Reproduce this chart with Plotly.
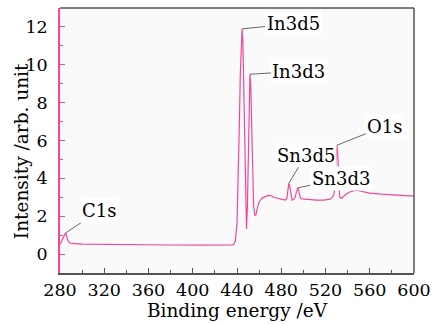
import plotly.graph_objects as go

# XPS survey spectrum (binding energy in eV, intensity in arb. units)
energy = [280, 281, 282.5, 284, 285, 286, 287, 288.5, 291, 300, 320, 350, 380, 410, 430,
          435, 437, 438.5, 440, 441, 442, 443, 444, 444.6, 445.3, 446.2, 447, 447.8, 448.6,
          449.4, 450.2, 451, 451.7, 452.4, 453.2, 454, 455, 456, 457, 458.5, 460, 462.5,
          464, 466, 468.6, 471, 473, 476, 479, 483.4, 485, 485.8, 486.9, 487.8, 488.8,
          489.8, 491, 492.5, 493.8, 495, 496, 497.2, 498.7, 505, 512, 518.7, 524, 526,
          527.6, 528.6, 529.4, 530.3, 531, 531.8, 532.9, 534.5, 537, 539.3, 542, 545, 548.2,
          551, 555, 560, 570, 580, 590, 598, 600]
intensity = [0.50, 0.62, 0.85, 1.06, 1.12, 0.96, 0.74, 0.60, 0.56, 0.53, 0.51, 0.50, 0.48,
             0.47, 0.46, 0.48, 0.51, 0.70, 1.60, 3.50, 6.50, 9.50, 11.50, 11.90, 11.30,
             8.50, 5.00, 2.50, 1.33, 2.50, 5.50, 8.30, 9.50, 9.00, 7.00, 4.50, 2.60, 2.05,
             2.05, 2.45, 2.75, 2.95, 3.00, 3.05, 3.10, 3.08, 3.00, 2.95, 2.90, 2.85, 2.92,
             3.30, 3.75, 3.55, 3.05, 2.85, 2.88, 3.00, 3.30, 3.50, 3.30, 2.98, 2.92, 2.87,
             2.85, 2.85, 2.90, 2.98, 3.16, 3.70, 4.80, 5.75, 5.30, 3.90, 3.00, 2.95, 3.10,
             3.20, 3.28, 3.35, 3.39, 3.33, 3.27, 3.22, 3.17, 3.13, 3.10, 3.08, 3.06]

# Peak labels: (text, energy, intensity, label offset x, label offset y)
peak_labels = ["C1s", "In3d5", "In3d3", "Sn3d5", "Sn3d3", "O1s"]
peak_energy = [285.2, 444.6, 451.7, 486.9, 495.0, 530.3]
peak_height = [1.12, 11.90, 9.50, 3.75, 3.50, 5.75]
label_dx = [33, 51, 49, 17, 43, 48]
label_dy = [-22, -5, -3, -28, -9, -19]

x_ticks = [280, 320, 360, 400, 440, 480, 520, 560, 600]
y_ticks = [0, 2, 4, 6, 8, 10, 12]

PINK = "#f0489a"
FRAME = "#555555"
FONT = "DejaVu Serif"

fig = go.Figure()
fig.add_trace(go.Scatter(x=energy, y=intensity, mode="lines",
                         line=dict(color=PINK, width=1.2), hoverinfo="skip"))

for txt, ex, iy, dx, dy in zip(peak_labels, peak_energy, peak_height, label_dx, label_dy):
    fig.add_annotation(x=ex, y=iy, text=txt, showarrow=True, arrowhead=0,
                       arrowwidth=0.8, arrowcolor="#444444", ax=dx, ay=dy,
                       bgcolor="white", borderpad=1,
                       font=dict(family=FONT, size=18, color="black"))

# vertical axis title, set slightly below the middle of the axis
fig.add_annotation(xref="paper", yref="paper", x=-0.11, y=0.46, text="Intensity /arb. unit",
                   textangle=-90, showarrow=False, xanchor="center", yanchor="middle",
                   font=dict(family=FONT, size=18.5, color="black"))

# dark frame on top and right, pink left axis line
fig.add_shape(type="line", xref="paper", yref="paper", x0=0, x1=1, y0=1, y1=1,
              line=dict(color=FRAME, width=1.5))
fig.add_shape(type="line", xref="paper", yref="paper", x0=1, x1=1, y0=0, y1=1,
              line=dict(color=FRAME, width=1.5))

fig.update_xaxes(range=[280, 600], tickvals=x_ticks, ticks="inside", ticklen=5,
                 tickcolor=FRAME, tickwidth=1, showline=True, linecolor=FRAME, linewidth=1.5,
                 minor=dict(dtick=20, ticks="inside", ticklen=3, tickcolor=FRAME),
                 showgrid=False, zeroline=False,
                 tickfont=dict(family=FONT, size=17.5, color="black"),
                 title=dict(text="Binding energy /eV", standoff=3,
                            font=dict(family=FONT, size=18.5, color="black")))
fig.update_yaxes(range=[-1, 13], tickvals=y_ticks, ticks="inside", ticklen=5,
                 tickcolor=PINK, tickwidth=1, showline=True, linecolor=PINK, linewidth=1.5,
                 minor=dict(dtick=1, ticks="inside", ticklen=3, tickcolor=PINK),
                 showgrid=False, zeroline=False, ticklabelstandoff=7,
                 tickfont=dict(family=FONT, size=17.5, color="black"))

fig.update_layout(width=439, height=324, margin=dict(l=60, r=17, t=8, b=48),
                  paper_bgcolor="white", plot_bgcolor="#fafafa", showlegend=False)

fig.write_html("out.html")
